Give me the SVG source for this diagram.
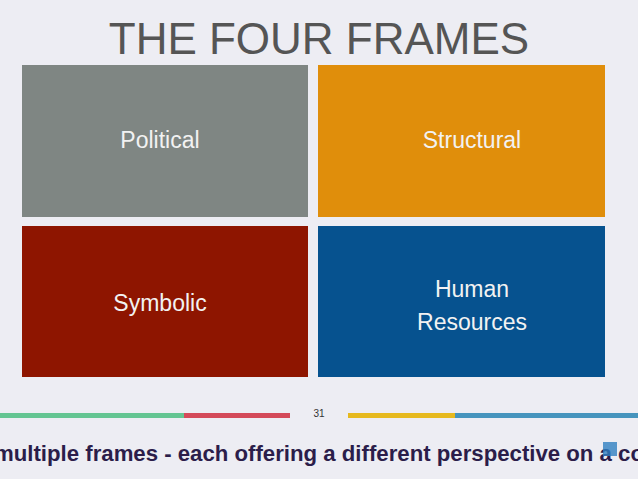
<svg xmlns="http://www.w3.org/2000/svg" width="638" height="479" viewBox="0 0 638 479">
<style>
.l{font-family:"Liberation Sans",Arial,sans-serif;font-size:23px;fill:#f2f2f2;text-anchor:middle}
</style>
<rect width="638" height="479" fill="#ededf3"/>
<text x="319" y="54" font-family="Liberation Sans,Arial,sans-serif" font-size="44" fill="#555" text-anchor="middle">THE FOUR FRAMES</text>
<g id="political"><rect x="22" y="65" width="286" height="152" fill="#7f8683"/><text class="l" x="160" y="148">Political</text></g>
<g id="structural"><rect x="318" y="65" width="287" height="152" fill="#e08e0b"/><text class="l" x="472" y="148">Structural</text></g>
<g id="symbolic"><rect x="22" y="226" width="286" height="151" fill="#8e1500"/><text class="l" x="160" y="311">Symbolic</text></g>
<g id="human"><rect x="318" y="226" width="287" height="151" fill="#06528f"/><text class="l" x="472" y="297">Human</text><text class="l" x="472" y="330">Resources</text></g>
<g id="connectors"/>
<rect x="0" y="413" width="184" height="5" fill="#64c592"/>
<rect x="184" y="413" width="106" height="5" fill="#d44a59"/>
<rect x="348" y="413" width="107" height="5" fill="#e6b91e"/>
<rect x="455" y="413" width="183" height="5" fill="#4694bd"/>
<text x="319" y="417" font-family="Liberation Sans,Arial,sans-serif" font-size="10" fill="#333" text-anchor="middle">31</text>
<text x="-6" y="461" font-family="Liberation Sans,Arial,sans-serif" font-size="22.5" font-weight="bold" fill="#2b1d4a" textLength="650" lengthAdjust="spacingAndGlyphs">multiple frames - each offering a different perspective on a co</text>
<rect x="603" y="442" width="14" height="14" fill="#2f7fc0" opacity="0.8"/>
</svg>
